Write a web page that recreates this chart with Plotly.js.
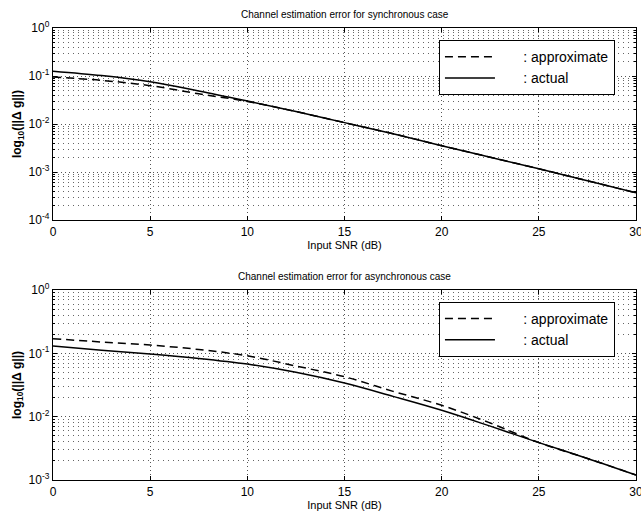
<!DOCTYPE html>
<html>
<head>
<meta charset="utf-8">
<script src="https://cdn.plot.ly/plotly-3.0.1.min.js"></script>
<style>html,body{margin:0;padding:0;background:#fff;}#chart{width:641px;height:516px;}</style>
</head>
<body>
<div id="chart"></div>
<script>
// Input SNR (dB)
const snr = [0, 2.5, 5, 7.5, 10, 12.5, 15, 17.5, 20, 22.5, 25, 27.5, 30];
// Synchronous case
const syncApprox = [0.0955, 0.0813, 0.063, 0.0427, 0.0295, 0.0182, 0.0107, 0.0063, 0.00355, 0.00204, 0.00117, 0.00066, 0.00037];
const syncActual = [0.126, 0.102, 0.0759, 0.049, 0.0302, 0.0182, 0.0107, 0.0063, 0.00355, 0.00204, 0.00117, 0.00066, 0.00037];
// Asynchronous case
const asyncApprox = [0.170, 0.151, 0.135, 0.115, 0.0912, 0.0631, 0.0427, 0.0251, 0.0151, 0.00794, 0.00389, 0.00219, 0.0012];
const asyncActual = [0.130, 0.112, 0.0977, 0.0832, 0.0676, 0.0501, 0.0339, 0.0209, 0.0126, 0.00708, 0.00389, 0.00219, 0.0012];
const titles = ["Channel estimation error for synchronous case", "Channel estimation error for asynchronous case"];
const xTitle = "Input SNR (dB)";
const yTitle = "<b>log<sub>10</sub>(||Δ g||)</b>";
const legendNames = ["&nbsp;&nbsp;&nbsp;&nbsp;&nbsp;&nbsp;: approximate", "&nbsp;&nbsp;&nbsp;&nbsp;&nbsp;&nbsp;: actual"];
const xTicks = [0, 5, 10, 15, 20, 25, 30];

function decadeTicks(lo, hi) {
  const v = [], t = [];
  for (let e = lo; e <= hi; e++) { v.push(Math.pow(10, e)); t.push("10<sup>" + (e < 0 ? "-" + (-e) : e) + "</sup>"); }
  return {v, t};
}
function minorTicks(lo, hi) {
  const v = [];
  for (let e = lo; e < hi; e++) for (let m = 2; m <= 9; m++) v.push(m * Math.pow(10, e));
  return v;
}

const font = {family: "Liberation Sans, Arial, sans-serif", color: "#000"};
const topT = decadeTicks(-4, 0), botT = decadeTicks(-3, 0);
const dashStyle = "8px,5px";

const traces = [
  {x: snr, y: syncApprox, name: legendNames[0], mode: "lines", line: {color: "#000", width: 1.5, dash: dashStyle, shape: "spline"}, xaxis: "x", yaxis: "y", legend: "legend"},
  {x: snr, y: syncActual, name: legendNames[1], mode: "lines", line: {color: "#000", width: 1.5, shape: "spline"}, xaxis: "x", yaxis: "y", legend: "legend"},
  {x: snr, y: asyncApprox, name: legendNames[0], mode: "lines", line: {color: "#000", width: 1.5, dash: dashStyle, shape: "spline"}, xaxis: "x2", yaxis: "y2", legend: "legend2"},
  {x: snr, y: asyncActual, name: legendNames[1], mode: "lines", line: {color: "#000", width: 1.5, shape: "spline"}, xaxis: "x2", yaxis: "y2", legend: "legend2"}
];

function xax(anchor) {
  return {
    anchor: anchor, domain: [0, 1], range: [0, 30], tickvals: xTicks, ticklabeloverflow: "allow",
    ticks: "inside", ticklen: 4, tickcolor: "#000", mirror: "ticks", showline: true, linecolor: "#000", linewidth: 1.2,
    showgrid: true, gridcolor: "#555", griddash: "1px,3px", gridwidth: 1, zeroline: false,
    tickfont: Object.assign({size: 12}, font),
    title: {text: xTitle, font: Object.assign({size: 11}, font), standoff: 2}
  };
}
function yax(anchor, dom, lo, hi, tk) {
  return {
    anchor: anchor, domain: dom, type: "log", range: [lo, hi],
    tickvals: tk.v, ticktext: tk.t,
    ticks: "inside", ticklen: 4, tickcolor: "#000", mirror: "ticks", showline: true, linecolor: "#000", linewidth: 1.2,
    showgrid: true, gridcolor: "#555", griddash: "1px,3px", gridwidth: 1, zeroline: false,
    minor: {tickvals: minorTicks(lo, hi), ticks: "inside", ticklen: 2, tickcolor: "#000", showgrid: true, gridcolor: "#666", griddash: "1px,4px", gridwidth: 1},
    tickfont: Object.assign({size: 12}, font),
    title: {text: yTitle, font: Object.assign({size: 12}, font), standoff: 4}
  };
}

const legendBase = {
  x: 0.662, xanchor: "left", yanchor: "top", bgcolor: "#fff", bordercolor: "#000", borderwidth: 1,
  font: Object.assign({size: 14}, font), itemwidth: 50, tracegroupgap: 0
};

const layout = {
  width: 641, height: 516,
  margin: {l: 53, r: 5, t: 28, b: 36},
  paper_bgcolor: "#fff", plot_bgcolor: "#fff",
  showlegend: true,
  xaxis: xax("y"),
  yaxis: yax("x", [0.575, 1], -4, 0, topT),
  xaxis2: xax("y2"),
  yaxis2: yax("x2", [0, 0.4204], -3, 0, botT),
  legend: Object.assign({y: 0.973}, legendBase),
  legend2: Object.assign({y: 0.394}, legendBase),
  annotations: [
    {text: titles[0], xref: "paper", yref: "paper", x: 0.5, y: 1, yshift: 6, xanchor: "center", yanchor: "bottom", showarrow: false, font: Object.assign({size: 10}, font)},
    {text: titles[1], xref: "paper", yref: "paper", x: 0.5, y: 0.4204, yshift: 6, xanchor: "center", yanchor: "bottom", showarrow: false, font: Object.assign({size: 10}, font)}
  ]
};

Plotly.newPlot("chart", traces, layout, {displayModeBar: false, staticPlot: true});
</script>
</body>
</html>
